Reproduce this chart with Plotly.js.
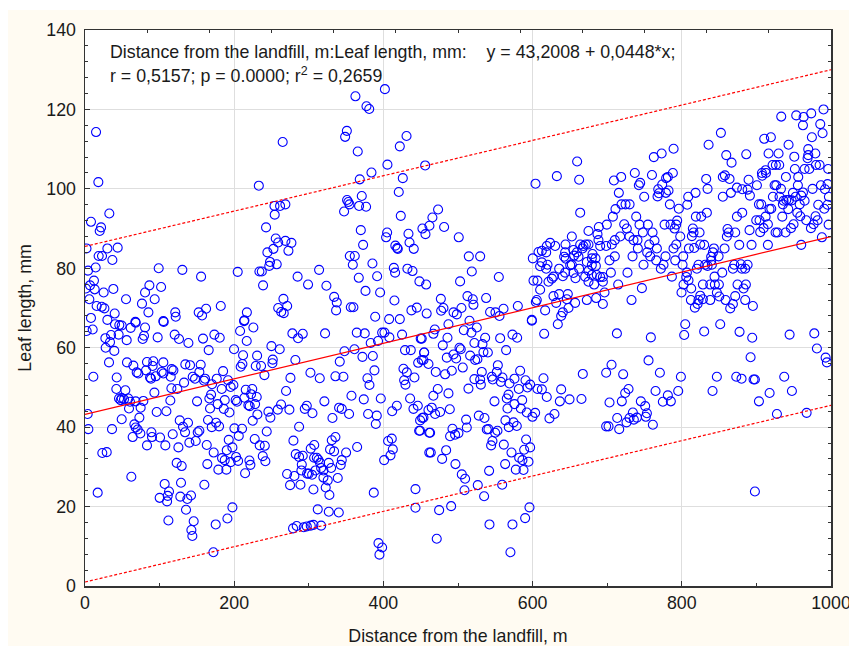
<!DOCTYPE html>
<html><head><meta charset="utf-8">
<script src="https://cdn.plot.ly/plotly-3.0.1.min.js"></script>
<style>
html,body{margin:0;padding:0;background:#fff;width:849px;height:646px;overflow:hidden}
#bg{position:absolute;left:8px;top:10px;width:841px;height:636px;background:#fffbf2}
#chart{position:absolute;left:0;top:0;width:860px;height:646px}
</style></head><body><div id="bg"></div><div id="chart"></div>
<script>
// [distance m, leaf length mm]
const upperLeft = [[14.8,114.3],[17.9,101.7],[32.6,93.8],[8,91.7],[21.5,90.3],[19.7,89.4],[2,85],[30,85],[43.8,85.2],[18.3,83.1],[22.8,83.1],[36.7,82.1],[14.3,80.2],[4,79.4],[12,76.9],[6.7,75.7],[1.3,74.9],[13,74.7],[25,73.9],[38,74.8],[5.8,72.2],[15.6,70.5],[22.4,70.3],[26,69.9],[39.8,68.6],[8,67.5],[30,67],[55,72.2],[76.4,71.1],[80.5,73.9],[86.3,75.7],[102,75.3],[93.4,72.2],[85,68.9],[98.8,80],[130.5,79.6],[155.6,77.9],[204.7,79.1],[121,68.9],[121.6,67.8],[105,66.7],[67.5,66.5],[152.4,68.9],[156.9,68.1],[162.3,69.8],[182,70.5],[217,68.9],[213.7,66.9],[233,100.8],[265,111.8],[254,95.7],[261.5,95.7],[268.6,96.1],[254.3,93.5],[242.7,90.3],[255.7,87.5],[259,86.5],[268.6,86.9],[276.7,86.4],[272.7,84.4],[252.6,84.9],[244.5,84],[248,81.6],[247,80.6],[257,81],[233.8,79.2],[237,79.2],[238.7,75.7],[285,77.9],[299,75.9],[313.8,79.6],[323.6,75.6],[334,72.8],[337.5,71.4],[336.6,69.4],[266,72.3],[271,70.5],[259,70],[263,69],[266.4,68.7],[362.5,123.3],[377.3,120.8],[381,120.1],[402,125.1],[351,114.6],[348.7,113.1],[431,113.3],[422,110.7],[365.6,109.4],[405.4,106.1],[456,105.9],[384,104.1],[368.3,102.4],[426,102.7],[420.6,99.2],[371,98.2],[351.3,97.2],[353,96.7],[354.5,96.1],[347.3,94.3],[367.4,95.7],[376.8,95.5],[423.3,93.2],[369.7,89.6],[405,89],[403.6,87.8],[433.6,88.7],[435,86.5],[416,85.7],[418.4,85.1],[419.3,84.9],[440.7,84.9],[372.8,85.9],[355,83.1],[361.6,83.1],[359,80.9],[385.3,81.2],[414,80.1],[415.7,78.9],[432.2,79.9],[439,79.3],[367,77.6],[391.6,78],[448.3,76.7],[457.3,75.9],[376,74.3],[395.6,73.9],[414.8,71.9],[356.3,70.2],[359.8,70.2],[437.6,69.4],[444.8,70.1],[458,68.6],[389,67.8],[407.7,67.2],[422,67.2]];
const upperMiddle = [[473.3,94.8],[465.7,92.8],[461.7,90.7],[452.3,90],[456.4,88.6],[481.4,90.4],[501,87.8],[514.5,83],[529.7,83],[518.5,79.2],[554.7,77.8],[502.8,76.7],[477,72.3],[512.7,73],[519.8,72.2],[520.7,70.8],[537.7,72.5],[504.6,70],[480.5,70],[477.4,69.3],[494,68.9],[498.4,68.4],[515.4,66.8],[543,69],[550.2,68.9],[555.6,68],[561,69.8],[580.2,70.5],[599,67],[603.9,101.3],[632.5,103.2],[659.7,106.9],[662.4,102.3],[663.8,94],[623.5,86.4],[619,85.6],[630.2,85.6],[644.1,86],[612.4,84.4],[618.2,84],[607.9,84.1],[600.3,82.5],[643.6,84],[654.8,84.6],[663.8,86],[668.2,85.6],[671.4,86],[674.9,86],[666.9,85],[659.3,84],[655.7,83.2],[661.5,82.9],[642.3,82.9],[644.5,82.4],[680.3,83.6],[679.4,82.5],[684.3,82.5],[672.7,81.6],[612.4,81.5],[620,80.9],[610.1,80.5],[618.2,79.9],[635.6,79.9],[650.4,80.8],[652.6,80.9],[662.4,79.9],[684.8,80.6],[679.4,80.8],[675,79.4],[643.6,78.9],[654.8,78.8],[679.4,78.3],[686.1,78.3],[690.6,77.8],[694.2,77.8],[640.5,78],[628,77.9],[625.8,77.4],[657.5,77.5],[670.5,77.9],[621.3,76.6],[674.9,76.6],[682.5,75.9],[694.2,76.6],[601.2,76.9],[606.5,76.9],[610.1,74.6],[628,73],[635.6,73.5],[647.2,73.5],[604.3,71.5],[605.6,72],[631.6,71.3],[645.9,72.2],[657,71.3],[616.8,69.4],[648.1,70],[640.5,68.9],[638.3,68],[652.6,88],[674.9,89.4],[688.8,90.4],[687,88.6],[688.3,87.1],[690.6,85.6],[698.6,85.6],[699.5,91],[696.4,73.9],[694.2,71],[685.2,72.5],[672.7,72]];
const upperRightA = [[709,102.1],[718.7,103],[737,104],[760,103.5],[762.5,108],[773,108.9],[789,110.1],[788,104],[781.3,103],[779,102.7],[744.2,101.5],[742.4,100.9],[715.6,99],[768.4,99.9],[773.7,101.1],[782.2,99.6],[778.7,99],[767.5,98.1],[769.3,98.9],[749.6,98],[719.2,96.1],[724.6,96.1],[730,96.1],[711.1,94.9],[707.6,93],[738.9,93],[784,96.1],[796,95],[776.9,91],[784.9,91],[793.8,92],[792.5,91],[790.3,90],[797.9,88],[792.5,86],[788.9,85],[778.2,83],[791.2,82],[786.7,77.9],[746.5,75],[732.6,72],[727.2,78.9],[748.7,80.9],[734,83],[771.9,79.9],[775.5,80.9],[765.7,82],[757.6,83],[753.6,84],[741.1,85],[766.6,85],[756.3,86],[763.4,87],[760.8,89],[747.8,89],[754.5,91],[743.3,91],[722.8,91.1],[726.3,90],[729.9,88],[735.3,87.1],[740.6,87.1],[717.4,88],[710.2,87.1],[706.2,86],[710.2,83],[703.1,82],[704.9,78.9],[714.7,75.9]];
const upperRightB = [[807.3,96],[808.6,98],[818.4,99],[832.7,102.5],[834.5,100],[835.9,111.1],[852.4,114.1],[859.6,108.5],[866.7,106.6],[886.4,108.7],[855,103],[857.8,103.4],[864,102.5],[855,98],[865.8,99],[873.9,100.3],[881,99.9],[888.2,99.8],[889.5,102.3],[891.3,98.3],[900.7,100.9],[907.8,103.3],[907.4,104],[912.3,104.7],[912.8,104],[921.7,106],[926.1,106],[930.6,106],[910.5,112.6],[919.4,113],[933.3,118.2],[953.4,118.5],[963.3,118.1],[973.5,119],[990,120],[962.4,116],[985.6,116.3],[988.7,114],[974.4,113],[943.1,111.1],[916.3,108.9],[929.7,108.9],[950.8,108.1],[969.5,110],[969.5,108.5],[979,108.9],[968.6,107.7],[951.6,105],[964.6,105],[970.9,105],[979.8,106],[984.7,106],[996.3,105],[939.6,103],[956.1,103],[955.6,100.9],[924.4,100.9],[926.6,100.9],[932.9,100],[975.3,100],[986.5,100.9],[991.9,99.9],[995.4,101.2],[949,99],[962.4,99.1],[922.1,98],[931,98],[952.5,98],[960.1,98.3],[997.2,98],[903.4,96.1],[906.5,96.1],[936.4,97],[940,97.2],[943.6,97.2],[947.2,97.1],[935.5,96.1],[958,96.1],[964.6,97],[982.9,96],[995.4,96],[991,95],[919.9,95],[917.6,94.9],[942.7,94.9],[954.8,94],[958.8,93.1],[881,94],[873.9,93],[912.3,93],[934.7,93],[979.3,93.1],[899.8,92.1],[904.2,92.1],[966.8,92.1],[982,92.1],[915.4,91.1],[949.8,91.1],[976.7,91.1],[909.6,90.1],[946.3,90.1],[973.1,90.1],[996.8,91],[890.8,89.6],[905.1,89.1],[925.7,89],[928.4,89],[939.1,89],[871.6,89],[861.3,89.9],[862.7,89],[860.4,88],[877,85.9],[893.5,85.9],[915.4,85.9],[960.1,85.9],[987.8,87.8],[818.9,93],[826,93],[833.6,94],[814.8,90],[815.7,89],[823.8,89],[813.5,88.1],[809.5,85],[816.6,85.1],[824.7,86],[830,85.9],[843,85],[857.3,85],[841.7,84],[839.4,82.9],[849.3,83],[801.9,83],[801,80.9],[806.8,78.9],[839.4,81.9],[831.4,80.9],[840.3,80.9],[822.4,80.9],[820.2,79.9],[834.5,80.6],[854.2,78.9],[868.5,79.9],[870.3,80.9],[879.2,81],[880.6,79.9],[885,79.9],[888.2,80.9],[806,77.8],[809,77],[802.3,75.9],[843.9,77.9],[812.6,74.9],[828.3,75.9],[838.1,75.9],[844.3,75.9],[849.7,75.9],[874.7,75.9],[885.9,75.9],[882.8,74.9],[799.6,73.9],[847,73.9],[824.7,73.1],[850.2,72.9],[812.2,72],[822.4,72],[828.3,72.2],[838.1,72],[858.7,72],[871.6,73],[885,72],[895.3,70.5],[868.5,71],[821.1,71],[817.5,70.1],[864.9,69.9]];
const lowerMiddle = [[487.2,65.9],[468.9,64.6],[467,63.5],[507.8,64.4],[518,63.8],[525.2,65.1],[536.4,62.5],[556.5,62.4],[573,63.3],[579.3,62.5],[599,66.8],[615.5,63.5],[633.8,65.9],[485.9,62.5],[479.6,60.6],[451.4,62.3],[522,61.2],[532.8,60.9],[502,60],[503.7,59.6],[534.1,58.9],[540,58.8],[564.5,59.4],[493.9,58.3],[454.6,58.8],[485,57.5],[497.5,57.3],[516.3,58],[523,56.9],[526,57.1],[451.4,56.9],[460.4,55.9],[506.4,55],[553.4,55.6],[470.2,53.9],[482.7,53.3],[491.7,54.2],[531.9,53.9],[552,53.9],[583.3,54.2],[545.3,52.7],[559.6,52.5],[575.7,52.2],[522,52.1],[529.7,52],[546.6,52],[557.4,51.4],[569,51],[590.5,51.8],[614.6,52.3],[530.6,50.7],[596.7,50.7],[593.1,50],[581.5,49.6],[514,49.7],[606.5,49.6],[612.4,49.5],[638.3,49.5],[472.9,49.6],[487.2,48.5],[467,47.9],[567.7,48.2],[565.4,47.2],[619,47.6],[586,46.8],[548.9,46.5],[575.7,45.8],[636.5,46.5],[649.5,47],[665.5,47.1],[566.3,44.7],[584.2,44.7],[592.2,43.7],[603.4,43.6],[599.8,42.6],[489,44.5],[464.8,44.9],[460.4,44.3],[476,43.8],[469.3,43.3],[453.7,42.4],[527.9,42.9],[535.5,42.3],[510.9,41.9],[563.6,41.7],[574.4,41.2],[578.8,40.3],[568.1,40],[629.3,43.3],[622.6,42.2],[511.8,39.9],[492.6,39.6],[449.2,39.1],[538.6,39.4],[540.8,39.5],[552.9,39.1],[549.8,38.6],[462.6,38.6],[500.6,38.5],[496.1,38.1],[489.4,37.7],[591.3,36.9],[546.2,36.5],[544.4,35.4],[561.4,35.6],[596.7,34.9],[588.7,34.3],[484.1,34.2],[463.5,33.6],[571.7,33.6],[582,32.3],[586.4,31.7],[594.5,31.3],[478.7,32],[496.6,30.7],[563.2,30.7],[577.5,29.3],[587.8,29.2],[541.7,29],[505.1,28.1],[509.5,27],[508.7,24.1],[526.5,25.4],[559.2,25.5],[535,22.6],[490.8,20.1],[474.7,19.1],[595.8,19.8],[590,17.1],[573,15.5],[542.2,15.5],[471.5,11.9],[570.3,8.5]];
const lowerRight = [[713,63.6],[758.5,62.6],[804.6,65.9],[803.2,63.2],[830,64.1],[851.5,65.9],[877.4,64],[894.4,62.5],[944.5,63.3],[977.6,63.6],[981.1,59.8],[892.2,57.6],[992.8,57.5],[994.5,56.3],[755.4,56.8],[705.8,55.7],[698.6,53.7],[721.4,53.3],[770.6,53.7],[667.3,53.4],[798.8,52.7],[847,52.7],[873,52.7],[880.1,52.2],[896.2,52],[898,52],[937.3,52.7],[947.6,49.1],[728.6,49.6],[724.1,48.6],[764.8,49.1],[795.2,49.1],[841.2,49.1],[781.3,48],[774.6,46.4],[785.3,46.5],[917.7,48.6],[903.4,46.5],[703.1,46.2],[719.6,46.5],[745.1,46.5],[750.9,45.3],[734.4,43.7],[753.2,43.5],[751.8,42.6],[729.9,42.3],[735.7,41.9],[739.8,42.4],[713.4,42.3],[725.9,41.2],[761.2,40.6],[698.6,40.2],[701.8,40.2],[716.1,39.5],[927.5,43.3],[967.3,43.6],[898,23.8]];
const lowerLeftA = [[2.2,64.2],[10.3,64.6],[27.3,62.4],[34.9,63.2],[33.5,61.4],[27.7,60],[39.3,59.2],[32.2,56.3],[40.2,65.9],[46,65.7],[49.2,65.6],[61.2,65],[68,66.3],[80.5,65.1],[45.1,63.3],[55.9,61.9],[79.1,63],[77.3,62.2],[97.4,62.6],[105.5,66.5],[120.2,63.3],[126,62.2],[138.6,61.2],[158.2,62.3],[173.4,63.3],[180.6,62.5],[165.8,59.4],[207.9,64.2],[225.7,65.1],[213.2,66.7],[216.8,61.7],[199.8,59.6],[211.9,58.1],[230.7,58],[249.9,60.4],[261,59.6],[251.7,57],[251.2,56.1],[282,56.9],[211,55.9],[208.7,55.2],[228.9,55.4],[236,55.4],[240.5,53.1],[278,63.6],[291.9,63.5],[285.6,62.4],[321.8,63.6],[364.3,63.8],[375,63.6],[361.2,59.6],[347.8,59.1],[371.9,57.7],[383,61.2],[392.8,61.7],[385.8,57.9],[398.3,63.8],[401.4,63.8],[408,62.6],[425,63.3],[450,62.3],[429,59.4],[436.7,59.4],[454.6,58.8],[453.7,56.9],[446.6,56.2],[341.5,56.5],[302.2,53.7],[314.7,52.3],[335.7,52.8],[346.4,52.7],[275.4,52.4],[388,54.3],[378.6,52.3],[381.3,50.6],[426.9,54.7],[431.4,53.8],[427.8,51.8],[429.6,50.7],[441.6,52.5],[269.5,49.1],[320.9,46.5],[357.2,47.9],[373.7,47],[396.5,47.2],[435.8,47.2],[418,45.4],[411.7,44],[446.1,45.4],[440.3,44.6],[262.8,45.7],[258.4,44.4],[245.9,43.9],[248.5,42.4],[274,44.4],[294.6,44.6],[297.3,45.4],[304.9,43.5],[331.7,42.3],[340.6,44.9],[344.2,44.6],[354,43.3],[379.5,43.3],[391.1,42.9],[389.8,40.8],[451.9,42.3],[449.2,41.7],[447.9,39.1],[461.5,38.6],[287,40.1],[243.6,38.9]];
const lowerLeftB = [[42.5,52.5],[11.2,52.7],[56.3,56.3],[64.8,55.5],[69.3,53.8],[71.5,53.5],[83.1,56.4],[91.6,56.6],[81.8,54.3],[90.7,55.4],[105,56.3],[87.2,52.5],[88.5,52.2],[94.8,52.8],[102.8,53.9],[105,53.5],[116.2,54.6],[118.5,54.3],[114.9,52.7],[134.5,55.8],[140.8,55.6],[155.1,55.7],[153.3,53.9],[144.4,52.7],[147.5,52.2],[160.9,52.2],[159.6,51.7],[132.8,51.2],[170.3,50.8],[176.6,52.2],[185.1,54.1],[191.8,51.8],[198.9,50.6],[195.3,50.1],[183.3,49.6],[115.8,49.8],[123.8,49.6],[42,49.6],[54.1,49.3],[93,48.7],[45.6,47.2],[49.2,47.3],[52.3,47],[58.1,47.2],[60.3,46.4],[67.9,46.5],[78.2,46.6],[47.8,46.8],[74.6,44.9],[59,44.7],[96.1,43.8],[109.1,44],[114.4,46.7],[150.2,46.5],[169,48.2],[166.7,47.2],[167.6,44.7],[177.9,45.8],[187.3,46.8],[186,44.6],[193.6,43.7],[202,46.8],[203.8,46.4],[215.5,49.4],[224.2,49.6],[222.6,48.3],[213.7,47.4],[230.2,47.6],[219,45.5],[220.8,45.3],[228,45.8],[231.1,43.2],[224.8,41.6],[3.6,43.3],[4.5,39.5],[36.2,39.5],[49.2,42],[72.9,42.4],[66.2,40.7],[67.9,39.9],[70.6,39.4],[74.2,38.4],[63.9,37.5],[89,38.7],[89.8,37.5],[100.6,37.4],[83.1,35.4],[107.7,35.4],[117.6,38.2],[125.2,34.9],[127,41.7],[131.4,40.1],[134.1,38.7],[138.1,41.1],[139.9,36.1],[148.4,36.5],[151.1,38.7],[153.3,39.1],[164.9,41.8],[169.9,40],[175.7,41.1],[179.7,40.2],[200.3,39.7],[210.5,39.6],[206.1,37.8],[192.7,36.8],[163.2,35.5],[172.5,33.6],[197.6,34.9],[190,34.2],[227.5,37],[234.2,35.4],[241,35.3],[183.7,32.2],[187.3,31.7],[202.5,32.5],[195.3,31.2],[205.2,31.5],[238.3,32.7],[241.8,31.4],[220.4,31.6],[221.7,30.5],[164,30.7],[122.9,31],[129.6,30.2],[178.8,29.3],[189.5,29.3],[214.6,28.4],[62.1,27.5],[128.7,26],[106.8,25.7],[160,25.5],[17,23.5],[23.2,33.5],[29.1,33.7],[100.1,22.2],[112.6,23.8],[110.9,22.7],[110,21.3],[127.8,22.5],[137.2,21.9],[142.1,22.8],[135.4,19.2],[111.8,16.5],[145.7,16.3],[142.6,14.1],[143.9,12.6],[175.2,15.5],[190.9,17],[197.6,19.8],[172.1,8.5]];
const lowerLeftC = [[279.4,36.6],[282.5,33.2],[287,32.5],[291.9,32.8],[290.6,30.6],[290.1,29.1],[270.9,28.2],[280.7,27.7],[274.9,25.4],[288.8,25.5],[297.7,28.3],[299.9,28.3],[304.4,28],[302.6,34.6],[307.3,35.5],[307.1,32.3],[310.7,32.3],[312.9,31.8],[315.1,31],[326.7,31],[308.9,29.1],[316.5,29.7],[319.6,29.1],[329.9,29.7],[319.6,27.3],[325.4,26.6],[306.2,24.3],[322.7,24.8],[327.6,22.9],[338.8,27.2],[342.8,30.5],[344.2,31.7],[350,33.6],[330.8,36.7],[335.7,37.5],[328.5,34.4],[333.9,33.9],[364.8,35],[406.3,36.5],[411.2,37.1],[412.6,34.4],[409.5,32.9],[401,31.7],[461.5,33.6],[387.1,23.5],[443,24.4],[443,19.7],[312,19.3],[326.8,18.7],[340.2,18.5],[278.9,14.5],[283.8,15.1],[293.2,14.8],[297.3,15],[302.6,15.2],[306.2,15.4],[316.5,15.2],[393.4,10.8],[398.3,9.7],[394.7,7.9]];

const points = [].concat(upperLeft, upperMiddle, upperRightA, upperRightB, lowerMiddle, lowerRight, lowerLeftA, lowerLeftB, lowerLeftC);
const distance = points.map(p => p[0]);
const leafLength = points.map(p => p[1]);

const lineX = [0, 1000];
const fitY = [43.2, 88];
const upperY = [85.5, 130];
const lowerY = [1, 45.5];
const xTicks = [0, 200, 400, 600, 800, 1000];
const yTicks = [0, 20, 40, 60, 80, 100, 120, 140];

const FONT = '"Liberation Sans", Arial, sans-serif';
const INK = '#1a1a1a', FRAME = '#333333', GRID = '#dedede';
const SIZE = 17.8;

const traces = [
  {type:'scatter', mode:'markers', x:distance, y:leafLength, hoverinfo:'skip',
   marker:{symbol:'circle-open', size:9, color:'#0000ff', line:{width:1.1, color:'#0000ff'}}},
  {type:'scatter', mode:'lines', x:lineX, y:fitY, line:{color:'#ff0000', width:1.2}},
  {type:'scatter', mode:'lines', x:lineX, y:upperY, line:{color:'#ff0000', width:1.2, dash:'3px,2px'}},
  {type:'scatter', mode:'lines', x:lineX, y:lowerY, line:{color:'#ff0000', width:1.2, dash:'3px,2px'}},
  {type:'scatter', mode:'lines', x:lineX, y:lowerY, xaxis:'x2', yaxis:'y2', hoverinfo:'skip', opacity:0, line:{width:0}}
];
const layout = {
  width:860, height:646, showlegend:false,
  paper_bgcolor:'rgba(0,0,0,0)', plot_bgcolor:'#ffffff',
  margin:{l:85, r:29, t:30, b:60, pad:0},
  font:{family:FONT, color:INK, size:SIZE},
  xaxis:{range:[0,1000], tickvals:xTicks, ticktext:xTicks.map(String), ticks:'inside', ticklen:5, tickwidth:1, tickcolor:FRAME,
    minor:{dtick:100, ticks:'inside', ticklen:3, tickcolor:FRAME, showgrid:false},
    showgrid:true, gridcolor:GRID, gridwidth:1, zeroline:false, showline:true, linecolor:FRAME, linewidth:1.5,
    tickfont:{family:FONT, size:SIZE, color:INK}, title:{text:'Distance from the landfill, m', font:{family:FONT, size:SIZE, color:INK}, standoff:17}, automargin:false},
  yaxis:{range:[0,140], tickvals:yTicks, ticktext:yTicks.map(String), ticks:'inside', ticklen:5, tickwidth:1, tickcolor:FRAME, ticklabelstandoff:4,
    minor:{dtick:4, ticks:'inside', ticklen:3, tickcolor:FRAME, showgrid:false},
    showgrid:true, gridcolor:GRID, gridwidth:1, zeroline:false, showline:true, linecolor:FRAME, linewidth:1.5,
    tickfont:{family:FONT, size:SIZE, color:INK}, title:{text:'Leaf length, mm', font:{family:FONT, size:SIZE, color:INK}, standoff:10}, automargin:false},
  xaxis2:{overlaying:'x', side:'top', range:[0,1000], tick0:0, dtick:1000/12, showticklabels:false, ticks:'inside', ticklen:3, tickcolor:FRAME,
    showgrid:false, zeroline:false, showline:true, linecolor:FRAME, linewidth:1.5},
  yaxis2:{overlaying:'y', side:'right', range:[0,140], tick0:0, dtick:4, showticklabels:false, ticks:'inside', ticklen:3, tickcolor:FRAME,
    showgrid:false, zeroline:false, showline:true, linecolor:FRAME, linewidth:1.5},
  annotations:[
    {xref:'x', yref:'y', x:32, y:134.5, xanchor:'left', yanchor:'middle', showarrow:false, align:'left', borderpad:0,
     text:'Distance from the landfill, m:Leaf length, mm:\u00a0\u00a0\u00a0 y = 43,2008 + 0,0448*x;', font:{family:FONT, size:SIZE, color:INK}},
    {xref:'x', yref:'y', x:32, y:128.7, xanchor:'left', yanchor:'middle', showarrow:false, align:'left', borderpad:0,
     text:'r = 0,5157; p = 0.0000; r<sup>2</sup> = 0,2659', font:{family:FONT, size:SIZE, color:INK}}
  ]
};
Plotly.newPlot('chart', traces, layout, {displayModeBar:false, staticPlot:true});
</script></body></html>
